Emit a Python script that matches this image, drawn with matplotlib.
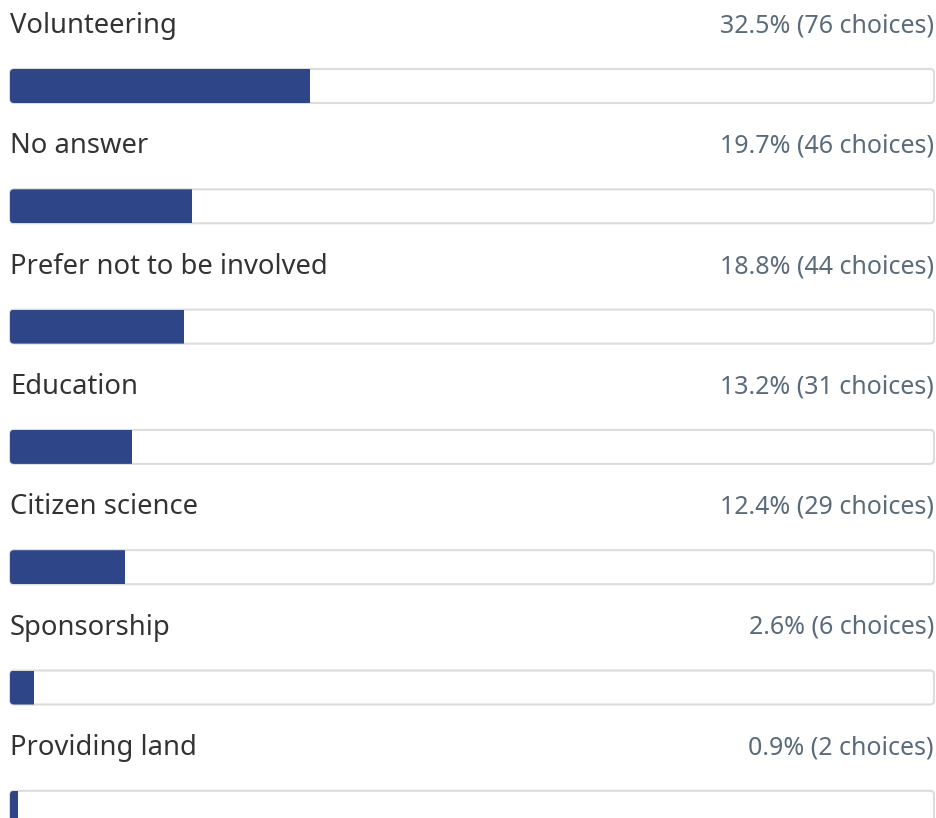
import matplotlib
matplotlib.use("Agg")
import matplotlib.pyplot as plt
from matplotlib.patches import FancyBboxPatch, Rectangle

labels = ["Volunteering", "No answer", "Prefer not to be involved", "Education",
          "Citizen science", "Sponsorship", "Providing land"]
percents = [32.5, 19.7, 18.8, 13.2, 12.4, 2.6, 0.9]
counts = [76, 46, 44, 31, 29, 6, 2]

W, H = 936, 818
fig = plt.figure(figsize=(W / 100, H / 100), dpi=100)
fig.patch.set_facecolor("white")

# axes spans the bar track horizontally; x in percent, y in pixels from top
left, right = 10, 934
ax = fig.add_axes([left / W, 0, (right - left) / W, 1])
ax.set_xlim(0, 100)
ax.set_ylim(H, 0)
ax.axis("off")

row_step = 120.3
label_y = 26
bar_top = 69
bar_h = 34

fill_color = "#2e4688"
border_color = "#dcdcdc"
label_color = "#333333"
value_color = "#5b6b7b"

for i, (name, pct, n) in enumerate(zip(labels, percents, counts)):
    y0 = i * row_step
    ax.text(0, y0 + label_y, name, ha="left", va="center", fontsize=19.7,
            color=label_color, family="Noto Sans")
    ax.text(100, y0 + label_y, f"{pct}% ({n} choices)", ha="right", va="center",
            fontsize=18, color=value_color, family="Noto Sans")
    track = FancyBboxPatch((0, y0 + bar_top), 100, bar_h,
                           boxstyle="round,pad=0,rounding_size=0.45",
                           mutation_aspect=8.5,
                           facecolor="white", edgecolor=border_color,
                           linewidth=1.5, clip_on=False)
    ax.add_patch(track)
    fill = Rectangle((0, y0 + bar_top), pct, bar_h, facecolor=fill_color,
                     edgecolor="none", clip_on=True)
    ax.add_patch(fill)
    fill.set_clip_path(track)

fig.savefig("out.png", dpi=100, facecolor="white")
